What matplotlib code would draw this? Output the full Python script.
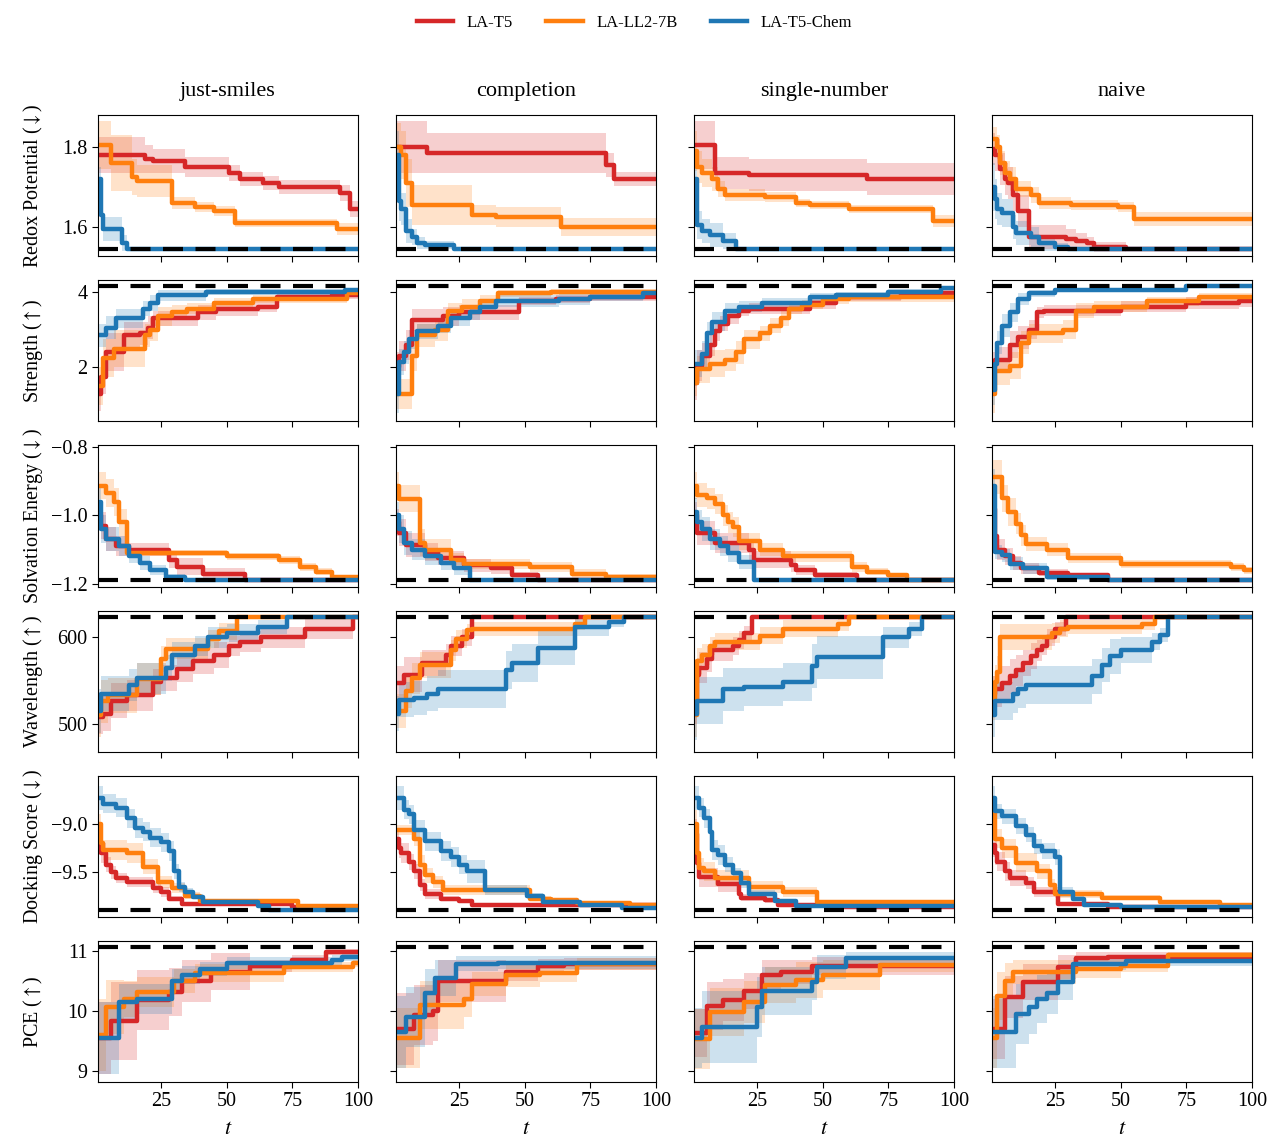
import numpy as np
import matplotlib
matplotlib.use("Agg")
import matplotlib.pyplot as plt
from matplotlib.lines import Line2D

plt.rcParams["font.family"] = ["Liberation Serif", "DejaVu Serif"]
plt.rcParams["mathtext.fontset"] = "stix"

prompts = ["just-smiles", "completion", "single-number", "naive"]
models = ["LA-T5", "LA-LL2-7B", "LA-T5-Chem"]
colors = ["#d62728", "#ff7f0e", "#1f77b4"]
ylabels = ["Redox Potential ($\\downarrow$)", "Strength ($\\uparrow$)", "Solvation Energy ($\\downarrow$)",
           "Wavelength ($\\uparrow$)", "Docking Score ($\\downarrow$)", "PCE ($\\uparrow$)"]
optimum = [1.545, 4.15, -1.188, 623, -9.89, 11.07]
ylims = [(1.527, 1.881), (0.58, 4.30), (-1.208, -0.795), (468, 631), (-9.96, -8.50), (8.82, 11.17)]
yticks = [[1.6, 1.8], [2, 4], [-1.2, -1.0, -0.8], [500, 600], [-9.5, -9.0], [9, 10, 11]]

# each series: (t where value changes, best value so far, half width of band), one list per prompt
redox_t5 = [
    [(1, 1.78, 0.045), (19, 1.77, 0.035), (22, 1.765, 0.03), (34, 1.75, 0.025), (51, 1.735, 0.02), (55, 1.72, 0.018),
     (64, 1.71, 0.018), (70, 1.70, 0.018), (93, 1.685, 0.02), (97, 1.645, 0.02)],
    [(1, 1.80, 0.065), (13, 1.785, 0.05), (81, 1.755, 0.03), (84, 1.72, 0.018)],
    [(1, 1.805, 0.06), (9, 1.735, 0.04), (22, 1.73, 0.04), (67, 1.72, 0.04)],
    [(1, 1.795, 0.04), (2, 1.78, 0.04), (4, 1.745, 0.04), (6, 1.72, 0.04), (7, 1.71, 0.04), (9, 1.68, 0.04),
     (11, 1.64, 0.04), (15, 1.575, 0.03), (29, 1.57, 0.025), (33, 1.565, 0.02), (37, 1.56, 0.015), (40, 1.55, 0.012),
     (52, 1.545, 0)],
]
redox_ll2 = [
    [(1, 1.805, 0.06), (6, 1.76, 0.07), (14, 1.725, 0.045), (16, 1.715, 0.04), (29, 1.66, 0.015), (38, 1.65, 0.012),
     (45, 1.64, 0.012), (53, 1.61, 0.01), (92, 1.595, 0.015)],
    [(1, 1.80, 0.06), (3, 1.78, 0.06), (5, 1.71, 0.06), (7, 1.655, 0.05), (30, 1.63, 0.025), (39, 1.625, 0.025),
     (64, 1.60, 0.022)],
    [(1, 1.79, 0.05), (2, 1.75, 0.04), (4, 1.735, 0.035), (8, 1.72, 0.03), (10, 1.695, 0.02), (13, 1.68, 0.015),
     (28, 1.675, 0.012), (40, 1.66, 0.01), (45, 1.655, 0.01), (60, 1.645, 0.01), (92, 1.615, 0.015)],
    [(1, 1.82, 0.03), (3, 1.80, 0.03), (4, 1.76, 0.03), (6, 1.735, 0.03), (8, 1.72, 0.03), (10, 1.695, 0.02),
     (16, 1.68, 0.02), (19, 1.66, 0.015), (31, 1.655, 0.012), (49, 1.65, 0.012), (55, 1.62, 0.018)],
]
redox_chem = [
    [(1, 1.72, 0.03), (2, 1.63, 0.04), (3, 1.595, 0.03), (10, 1.56, 0.02), (12, 1.545, 0)],
    [(1, 1.78, 0.06), (2, 1.665, 0.05), (3, 1.645, 0.04), (5, 1.59, 0.03), (7, 1.575, 0.02), (9, 1.56, 0.015),
     (12, 1.555, 0.01), (23, 1.545, 0)],
    [(1, 1.72, 0.06), (2, 1.605, 0.035), (4, 1.59, 0.03), (7, 1.58, 0.03), (12, 1.565, 0.02), (17, 1.545, 0)],
    [(1, 1.70, 0.06), (2, 1.67, 0.05), (3, 1.645, 0.04), (5, 1.635, 0.035), (9, 1.60, 0.03), (10, 1.585, 0.03),
     (16, 1.575, 0.025), (19, 1.56, 0.02), (25, 1.55, 0.01), (30, 1.545, 0)],
]

strength_t5 = [
    [(1, 1.3, 0.45), (2, 1.75, 0.45), (4, 2.4, 0.5), (11, 2.85, 0.35), (17, 2.9, 0.3), (20, 3.05, 0.3), (22, 3.3, 0.2),
     (39, 3.45, 0.2), (46, 3.55, 0.2), (62, 3.6, 0.15), (69, 3.85, 0.1), (90, 3.9, 0.1)],
    [(1, 2.0, 0.4), (2, 2.3, 0.4), (5, 2.6, 0.4), (7, 3.25, 0.3), (19, 3.35, 0.25), (25, 3.45, 0.2), (48, 3.75, 0.1),
     (62, 3.8, 0.1), (75, 3.85, 0.1)],
    [(1, 1.6, 0.45), (2, 2.05, 0.4), (4, 2.3, 0.35), (7, 2.6, 0.3), (9, 2.95, 0.25), (11, 3.15, 0.2), (14, 3.35, 0.2),
     (18, 3.5, 0.15), (22, 3.55, 0.15), (45, 3.7, 0.15), (55, 3.85, 0.1), (80, 3.95, 0.08)],
    [(1, 2.0, 0.4), (2, 2.2, 0.35), (8, 2.6, 0.35), (11, 2.8, 0.3), (15, 3.0, 0.25), (18, 3.45, 0.15), (21, 3.5, 0.15),
     (50, 3.6, 0.15), (75, 3.7, 0.15), (95, 3.75, 0.15)],
]
strength_ll2 = [
    [(1, 1.5, 0.5), (3, 2.25, 0.5), (7, 2.5, 0.5), (19, 2.85, 0.3), (21, 3.0, 0.3), (24, 3.35, 0.25), (29, 3.45, 0.2),
     (35, 3.55, 0.15), (45, 3.7, 0.12), (60, 3.8, 0.1), (96, 3.95, 0.1)],
    [(1, 1.3, 0.4), (7, 2.3, 0.4), (9, 2.85, 0.3), (16, 3.0, 0.3), (21, 3.5, 0.2), (26, 3.6, 0.2), (33, 3.75, 0.15),
     (40, 3.95, 0.1), (60, 4.0, 0.08)],
    [(1, 1.6, 0.35), (2, 1.95, 0.35), (7, 2.1, 0.35), (13, 2.2, 0.3), (17, 2.4, 0.3), (20, 2.75, 0.25), (26, 2.9, 0.2),
     (30, 3.1, 0.2), (34, 3.3, 0.2), (37, 3.55, 0.15), (42, 3.65, 0.12), (50, 3.8, 0.12), (60, 3.85, 0.12)],
    [(1, 1.3, 0.5), (2, 1.9, 0.35), (8, 2.05, 0.35), (12, 2.65, 0.3), (15, 2.9, 0.25), (28, 3.0, 0.25), (33, 3.5, 0.2),
     (40, 3.6, 0.15), (60, 3.75, 0.12), (80, 3.85, 0.1)],
]
strength_chem = [
    [(1, 2.85, 0.3), (4, 3.05, 0.3), (8, 3.3, 0.25), (18, 3.55, 0.2), (21, 3.7, 0.2), (24, 3.9, 0.15), (42, 4.0, 0.08),
     (95, 4.05, 0.05)],
    [(1, 1.3, 0.5), (2, 2.15, 0.35), (4, 2.4, 0.3), (6, 2.75, 0.25), (9, 2.95, 0.2), (17, 3.1, 0.2), (22, 3.3, 0.2),
     (29, 3.45, 0.2), (33, 3.6, 0.15), (39, 3.75, 0.15), (63, 3.8, 0.15), (75, 3.85, 0.1), (95, 3.95, 0.08)],
    [(1, 2.1, 0.35), (4, 2.35, 0.35), (6, 2.9, 0.3), (8, 3.2, 0.25), (13, 3.5, 0.2), (18, 3.6, 0.15), (27, 3.7, 0.12),
     (45, 3.85, 0.1), (55, 3.9, 0.08), (75, 4.0, 0.06), (95, 4.1, 0.05)],
    [(1, 1.4, 0.4), (2, 2.1, 0.35), (3, 2.65, 0.3), (5, 3.1, 0.3), (8, 3.45, 0.25), (11, 3.8, 0.15), (15, 3.95, 0.1),
     (25, 4.05, 0.05), (75, 4.15, 0.0)],
]

solvation_t5 = [
    [(1, -1.0, 0.04), (2, -1.03, 0.04), (4, -1.07, 0.035), (8, -1.09, 0.03), (13, -1.10, 0.02), (28, -1.13, 0.025),
     (31, -1.15, 0.025), (41, -1.17, 0.015), (57, -1.188, 0)],
    [(1, -1.02, 0.04), (2, -1.05, 0.04), (5, -1.087, 0.035), (12, -1.107, 0.025), (17, -1.124, 0.02),
     (27, -1.146, 0.02), (37, -1.155, 0.015), (45, -1.175, 0.01), (55, -1.188, 0)],
    [(1, -1.0, 0.04), (2, -1.05, 0.035), (9, -1.08, 0.03), (22, -1.10, 0.03), (24, -1.13, 0.025), (38, -1.145, 0.02),
     (40, -1.16, 0.015), (47, -1.175, 0.01), (63, -1.188, 0)],
    [(1, -0.98, 0.05), (2, -1.06, 0.04), (3, -1.10, 0.03), (6, -1.12, 0.025), (9, -1.14, 0.02), (12, -1.155, 0.015),
     (19, -1.167, 0.01), (30, -1.175, 0.008), (45, -1.188, 0)],
]
solvation_ll2 = [
    [(1, -0.913, 0.04), (4, -0.934, 0.04), (7, -0.961, 0.04), (9, -1.02, 0.04), (12, -1.11, 0.01), (50, -1.12, 0.01),
     (70, -1.13, 0.012), (78, -1.15, 0.012), (84, -1.165, 0.01), (90, -1.18, 0.005)],
    [(1, -0.913, 0.04), (2, -0.951, 0.04), (10, -1.08, 0.04), (12, -1.10, 0.03), (22, -1.13, 0.02),
     (27, -1.141, 0.015), (52, -1.15, 0.015), (68, -1.17, 0.012), (81, -1.18, 0.008)],
    [(1, -0.913, 0.04), (2, -0.94, 0.035), (6, -0.95, 0.03), (9, -0.966, 0.03), (12, -1.0, 0.03), (14, -1.02, 0.03),
     (16, -1.034, 0.03), (18, -1.076, 0.025), (26, -1.10, 0.02), (35, -1.12, 0.015), (61, -1.15, 0.015),
     (67, -1.165, 0.01), (75, -1.175, 0.008), (82, -1.188, 0)],
    [(1, -0.888, 0.05), (5, -0.95, 0.04), (7, -0.99, 0.04), (10, -1.024, 0.03), (12, -1.058, 0.03), (14, -1.083, 0.02),
     (22, -1.10, 0.02), (30, -1.124, 0.015), (50, -1.141, 0.012), (92, -1.15, 0.012), (97, -1.16, 0.01)],
]
solvation_chem = [
    [(1, -0.96, 0.05), (2, -1.04, 0.04), (4, -1.07, 0.035), (9, -1.09, 0.03), (13, -1.12, 0.02), (17, -1.14, 0.02),
     (21, -1.16, 0.015), (27, -1.18, 0.01), (34, -1.188, 0)],
    [(1, -1.0, 0.04), (2, -1.04, 0.04), (4, -1.08, 0.035), (7, -1.10, 0.03), (12, -1.12, 0.025), (18, -1.14, 0.02),
     (23, -1.155, 0.02), (29, -1.188, 0)],
    [(1, -0.99, 0.04), (2, -1.02, 0.035), (4, -1.04, 0.035), (7, -1.07, 0.03), (11, -1.09, 0.03), (14, -1.11, 0.025),
     (18, -1.136, 0.02), (24, -1.188, 0)],
    [(1, -0.913, 0.05), (2, -1.107, 0.02), (5, -1.117, 0.02), (8, -1.141, 0.02), (13, -1.155, 0.015),
     (22, -1.18, 0.008), (45, -1.188, 0)],
]

wavelength_t5 = [
    [(1, 508, 20), (3, 512, 20), (6, 527, 20), (12, 533, 18), (22, 548, 15), (25, 553, 15), (31, 563, 15),
     (37, 573, 15), (45, 580, 15), (51, 590, 12), (55, 595, 12), (63, 600, 12), (80, 610, 12), (98, 623, 0)],
    [(1, 547, 20), (4, 557, 20), (11, 570, 15), (20, 580, 12), (22, 590, 12), (26, 600, 10), (30, 623, 0)],
    [(1, 525, 25), (2, 556, 20), (3, 565, 18), (6, 575, 15), (8, 585, 12), (16, 590, 10), (18, 597, 10),
     (20, 605, 8), (23, 623, 0)],
    [(1, 535, 20), (2, 540, 20), (5, 547, 20), (8, 555, 20), (10, 562, 18), (13, 570, 15), (16, 578, 15),
     (18, 585, 12), (20, 590, 10), (22, 600, 10), (25, 610, 8), (29, 623, 0)],
]
wavelength_ll2 = [
    [(1, 510, 25), (2, 526, 25), (5, 533, 20), (16, 552, 18), (25, 575, 15), (27, 587, 12), (43, 598, 10),
     (47, 607, 10), (54, 623, 0)],
    [(1, 515, 20), (5, 538, 20), (7, 553, 18), (10, 568, 15), (22, 585, 12), (24, 598, 10), (28, 608, 8),
     (30, 610, 8), (69, 615, 6), (73, 623, 0)],
    [(1, 510, 25), (2, 573, 15), (4, 580, 12), (7, 590, 10), (9, 595, 10), (26, 602, 10), (35, 610, 10),
     (56, 615, 8), (60, 623, 0)],
    [(1, 530, 25), (2, 548, 20), (3, 560, 18), (4, 600, 15), (24, 605, 12), (27, 610, 10), (30, 612, 8),
     (58, 615, 6), (63, 623, 0)],
]
wavelength_chem = [
    [(1, 515, 25), (2, 535, 20), (13, 545, 18), (16, 553, 18), (27, 565, 15), (29, 580, 15), (38, 590, 12),
     (43, 600, 12), (50, 605, 10), (62, 612, 8), (73, 623, 0)],
    [(1, 512, 20), (2, 528, 20), (8, 530, 20), (13, 535, 20), (17, 540, 22), (43, 562, 22), (45, 570, 22),
     (55, 588, 20), (69, 612, 10), (82, 618, 6), (88, 623, 0)],
    [(1, 512, 30), (2, 527, 27), (12, 540, 25), (20, 543, 22), (35, 548, 22), (46, 567, 25), (48, 577, 25),
     (73, 600, 12), (83, 610, 8), (88, 623, 0)],
    [(1, 510, 25), (2, 527, 22), (9, 535, 22), (11, 540, 22), (14, 545, 22), (39, 555, 20), (43, 568, 20),
     (46, 578, 20), (50, 585, 15), (62, 595, 10), (65, 603, 8), (68, 623, 0)],
]

docking_t5 = [
    [(1, -9.2, 0.1), (2, -9.3, 0.1), (4, -9.42, 0.08), (6, -9.5, 0.07), (8, -9.56, 0.05), (12, -9.6, 0.05),
     (22, -9.66, 0.05), (25, -9.70, 0.05), (28, -9.77, 0.03), (33, -9.83, 0.015), (75, -9.86, 0.01)],
    [(1, -9.15, 0.1), (2, -9.25, 0.1), (3, -9.3, 0.1), (6, -9.39, 0.08), (8, -9.49, 0.08), (10, -9.63, 0.06),
     (12, -9.72, 0.05), (18, -9.77, 0.03), (25, -9.80, 0.02), (30, -9.84, 0.01)],
    [(1, -9.1, 0.15), (2, -9.4, 0.12), (3, -9.55, 0.1), (10, -9.62, 0.08), (18, -9.72, 0.05), (19, -9.76, 0.04),
     (28, -9.79, 0.03), (33, -9.84, 0.02), (55, -9.86, 0.01)],
    [(1, -9.22, 0.12), (2, -9.3, 0.12), (3, -9.39, 0.1), (6, -9.49, 0.1), (8, -9.56, 0.08), (14, -9.61, 0.06),
     (17, -9.70, 0.05), (26, -9.83, 0.02), (45, -9.86, 0.01)],
]
docking_ll2 = [
    [(1, -9.0, 0.1), (2, -9.2, 0.1), (3, -9.27, 0.1), (12, -9.3, 0.1), (18, -9.44, 0.08), (24, -9.6, 0.06),
     (29, -9.66, 0.05), (34, -9.74, 0.04), (40, -9.80, 0.02), (77, -9.85, 0.01)],
    [(1, -9.06, 0.05), (8, -9.15, 0.08), (10, -9.42, 0.1), (12, -9.53, 0.08), (15, -9.6, 0.06), (19, -9.68, 0.05),
     (52, -9.77, 0.03), (60, -9.79, 0.03), (70, -9.82, 0.02), (90, -9.84, 0.02)],
    [(1, -9.0, 0.15), (2, -9.3, 0.12), (3, -9.45, 0.1), (5, -9.49, 0.1), (9, -9.56, 0.08), (22, -9.65, 0.06),
     (35, -9.70, 0.05), (48, -9.81, 0.02)],
    [(1, -8.85, 0.12), (2, -9.15, 0.1), (5, -9.25, 0.1), (10, -9.4, 0.1), (18, -9.49, 0.08), (23, -9.63, 0.06),
     (25, -9.72, 0.04), (43, -9.76, 0.03), (65, -9.81, 0.02), (88, -9.84, 0.02)],
]
docking_chem = [
    [(1, -8.73, 0.12), (3, -8.79, 0.1), (8, -8.83, 0.1), (12, -8.94, 0.1), (15, -9.04, 0.1), (18, -9.08, 0.1),
     (21, -9.14, 0.1), (25, -9.19, 0.1), (28, -9.28, 0.1), (30, -9.49, 0.08), (32, -9.65, 0.05), (34, -9.70, 0.04),
     (37, -9.75, 0.03), (41, -9.81, 0.02), (62, -9.85, 0.02), (66, -9.89, 0)],
    [(1, -8.73, 0.12), (4, -8.85, 0.1), (6, -8.9, 0.1), (8, -9.06, 0.1), (12, -9.18, 0.1), (18, -9.28, 0.1),
     (22, -9.34, 0.1), (25, -9.42, 0.1), (28, -9.49, 0.12), (35, -9.68, 0.05), (51, -9.74, 0.03), (57, -9.81, 0.02),
     (71, -9.84, 0.02), (87, -9.87, 0.01)],
    [(1, -8.73, 0.12), (3, -8.83, 0.1), (5, -8.94, 0.1), (7, -9.08, 0.1), (8, -9.27, 0.1), (10, -9.32, 0.1),
     (13, -9.42, 0.08), (16, -9.51, 0.06), (19, -9.61, 0.05), (22, -9.72, 0.04), (32, -9.8, 0.02), (40, -9.85, 0.01)],
    [(1, -8.73, 0.12), (2, -8.87, 0.08), (5, -8.92, 0.08), (10, -9.02, 0.08), (14, -9.11, 0.08), (17, -9.23, 0.08),
     (20, -9.28, 0.08), (25, -9.34, 0.08), (27, -9.70, 0.05), (32, -9.77, 0.03), (36, -9.84, 0.02), (50, -9.86, 0.01)],
]

pce_t5 = [
    [(1, 9.56, 0.6), (6, 9.83, 0.65), (16, 10.18, 0.5), (28, 10.32, 0.4), (33, 10.5, 0.35), (44, 10.66, 0.3),
     (59, 10.75, 0.1), (75, 10.85, 0.08), (88, 10.99, 0.05)],
    [(1, 9.71, 0.6), (8, 9.93, 0.5), (15, 10.0, 0.5), (17, 10.5, 0.35), (43, 10.66, 0.15), (55, 10.75, 0.12),
     (65, 10.79, 0.1)],
    [(1, 9.63, 0.4), (6, 10.09, 0.4), (12, 10.18, 0.35), (20, 10.33, 0.3), (27, 10.6, 0.25), (34, 10.66, 0.2),
     (46, 10.75, 0.15)],
    [(1, 9.71, 0.5), (6, 10.24, 0.35), (13, 10.49, 0.3), (26, 10.74, 0.2), (33, 10.88, 0.1), (45, 10.9, 0.08)],
]
pce_ll2 = [
    [(1, 9.6, 0.6), (4, 10.07, 0.45), (11, 10.21, 0.3), (16, 10.32, 0.25), (30, 10.5, 0.2), (38, 10.63, 0.15),
     (72, 10.74, 0.08), (98, 10.8, 0.06)],
    [(1, 9.55, 0.5), (10, 10.1, 0.4), (27, 10.2, 0.3), (30, 10.45, 0.2), (43, 10.6, 0.2), (56, 10.63, 0.15),
     (70, 10.79, 0.1)],
    [(1, 9.54, 0.5), (7, 9.99, 0.4), (20, 10.16, 0.35), (28, 10.43, 0.3), (40, 10.52, 0.3), (50, 10.61, 0.25),
     (72, 10.77, 0.12)],
    [(1, 9.55, 0.5), (3, 10.25, 0.4), (6, 10.5, 0.3), (9, 10.65, 0.2), (33, 10.7, 0.15), (50, 10.75, 0.1),
     (68, 10.93, 0.06)],
]
pce_chem = [
    [(1, 9.55, 0.6), (9, 10.15, 0.3), (16, 10.2, 0.25), (29, 10.5, 0.2), (33, 10.6, 0.15), (40, 10.7, 0.12),
     (50, 10.8, 0.1), (90, 10.85, 0.08), (94, 10.9, 0.06)],
    [(1, 9.65, 0.6), (5, 9.9, 0.5), (12, 10.3, 0.4), (16, 10.55, 0.3), (24, 10.79, 0.12), (40, 10.81, 0.1)],
    [(1, 9.56, 0.5), (4, 9.74, 0.6), (25, 10.07, 0.5), (27, 10.33, 0.4), (46, 10.49, 0.3), (48, 10.74, 0.2),
     (59, 10.88, 0.1)],
    [(1, 9.66, 0.6), (10, 9.96, 0.5), (15, 10.07, 0.45), (18, 10.21, 0.4), (22, 10.3, 0.35), (26, 10.49, 0.3),
     (32, 10.79, 0.1), (52, 10.83, 0.08)],
]

rows = [
    (redox_t5, redox_ll2, redox_chem),
    (strength_t5, strength_ll2, strength_chem),
    (solvation_t5, solvation_ll2, solvation_chem),
    (wavelength_t5, wavelength_ll2, wavelength_chem),
    (docking_t5, docking_ll2, docking_chem),
    (pce_t5, pce_ll2, pce_chem),
]


def draw_series(ax, pts, color):
    t = np.array([p[0] for p in pts] + [100])
    y = np.array([p[1] for p in pts] + [pts[-1][1]])
    h = np.array([p[2] for p in pts] + [pts[-1][2]])
    ax.fill_between(t, y - h, y + h, step="post", color=color, alpha=0.22, lw=0, zorder=1)
    ax.step(t, y, where="post", color=color, lw=3.2, zorder=2)


fig, axes = plt.subplots(6, 4, figsize=(12.69, 11.39), dpi=100, sharex=True, sharey="row")
fig.subplots_adjust(left=0.0772, right=0.9866, top=0.899, bottom=0.05, wspace=0.146, hspace=0.17)

for r, series in enumerate(rows):
    for c in range(4):
        ax = axes[r, c]
        for m in range(3):
            draw_series(ax, series[m][c], colors[m])
        ax.axhline(optimum[r], color="k", lw=3.0, ls=(0, (4.8, 3)), zorder=3)
        ax.set_xlim(1, 100)
        ax.set_ylim(*ylims[r])
        ax.set_yticks(yticks[r])
        ax.set_xticks([25, 50, 75, 100])
        ax.tick_params(direction="out", length=4, labelsize=14.5)
        if r == 0:
            ax.set_title(prompts[c], fontsize=16, pad=14)
        if r == 5:
            ax.set_xlabel("$t$", fontsize=16, labelpad=6)
    axes[r, 0].set_ylabel(ylabels[r], fontsize=14.5)

fig.align_ylabels(axes[:, 0])

handles = [Line2D([], [], color=col, lw=3.2) for col in colors]
fig.legend(handles, models, loc="upper center", bbox_to_anchor=(0.5, 1.0), ncol=3, frameon=False,
           fontsize=12, columnspacing=2.0, handlelength=2.2)

fig.savefig("out.png", dpi=100)
